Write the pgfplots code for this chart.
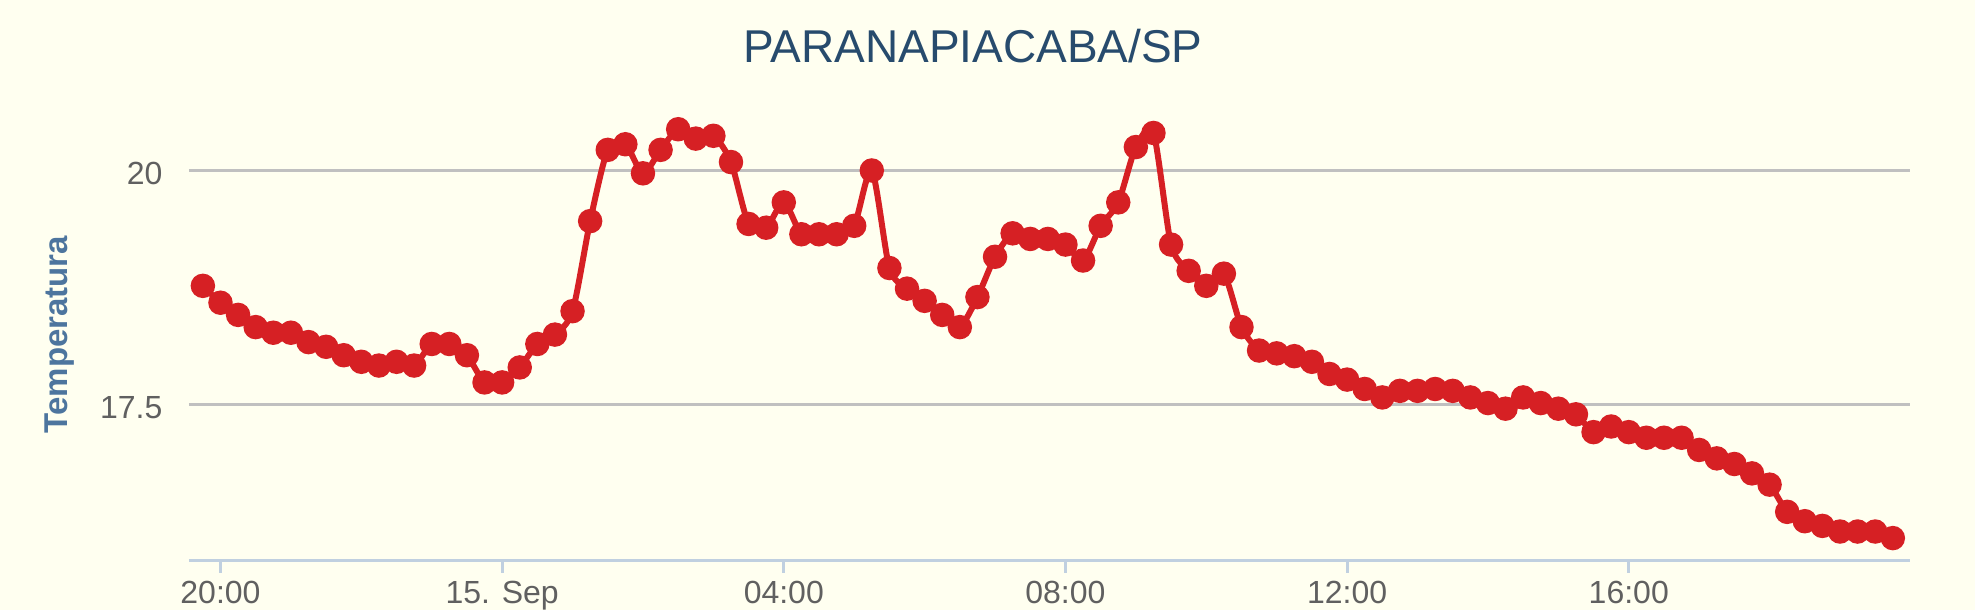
\documentclass[border=0pt]{standalone}
\usepackage{fontspec}
\setmainfont{Liberation Sans}
\usepackage{pgfplots}
\pgfplotsset{compat=1.18}
\definecolor{bg}{HTML}{FFFFF0}
\definecolor{titleblue}{HTML}{274B6D}
\definecolor{labelblue}{HTML}{4D759E}
\definecolor{ticklabelgray}{HTML}{606060}
\definecolor{gridgray}{HTML}{C0C0C0}
\definecolor{axisblue}{HTML}{C0D0E0}
\definecolor{sred}{HTML}{D62024}
\begin{document}
\begin{tikzpicture}
\path[fill=bg] (0,0) rectangle (987.5pt,305pt);
\useasboundingbox (0,0) rectangle (987.5pt,305pt);
\begin{axis}[
  at={(94.4pt,24.7pt)}, anchor=south west,
  scale only axis, width=860.8pt, height=226pt,
  xmin=-4.45, xmax=20.0, ymin=15.84, ymax=20.66,
  axis x line*=bottom, axis y line*=left,
  x axis line style={draw=axisblue, line width=1.5pt},
  y axis line style={draw=none},
  xtick={-4,0,4,8,12,16},
  xticklabels={20:00,15. Sep,04:00,08:00,12:00,16:00},
  ytick={17.5,20},
  yticklabels={17.5,20},
  xtick align=outside,
  major tick length=6pt,
  xtick style={draw=axisblue, line width=1.5pt},
  ytick style={draw=none},
  ymajorgrids,
  grid style={draw=gridgray, line width=1.5pt},
  tick label style={font=\fontsize{16}{16}\selectfont, text=ticklabelgray},
  xticklabel style={anchor=north, inner sep=0pt, yshift=-4pt},
  yticklabel style={anchor=east, inner sep=0pt, xshift=-13pt, yshift=-1.5pt},
  every axis title shift=0pt,
  title={PARANAPIACABA/SP},
  title style={at={(0.4555,1.1009)}, anchor=base, font=\fontsize{23}{23}\selectfont, text=titleblue, inner sep=0pt},
  ylabel={Temperatura},
  ylabel style={at={(axis description cs:-0.0703,0.5)}, anchor=base, font=\fontsize{16.5}{16.5}\selectfont\bfseries, text=labelblue, inner sep=0pt},
  clip=false,
]
\addplot[sred, line width=3pt, smooth, tension=0.45, mark=*, mark size=4.6pt, mark options={solid, fill=sred, draw=none}] coordinates {
(-4.25,18.77) (-4.00,18.59) (-3.75,18.46) (-3.50,18.33) (-3.25,18.27) (-3.00,18.27)
(-2.75,18.17) (-2.50,18.12) (-2.25,18.03) (-2.00,17.96) (-1.75,17.92) (-1.50,17.96)
(-1.25,17.92) (-1.00,18.15) (-0.75,18.15) (-0.50,18.03) (-0.25,17.74) (0.00,17.74)
(0.25,17.90) (0.50,18.15) (0.75,18.25) (1.00,18.50) (1.25,19.46) (1.50,20.22)
(1.75,20.28) (2.00,19.97) (2.25,20.22) (2.50,20.44) (2.75,20.34) (3.00,20.37)
(3.25,20.09) (3.50,19.43) (3.75,19.39) (4.00,19.66) (4.25,19.32) (4.50,19.32)
(4.75,19.32) (5.00,19.41) (5.25,20.00) (5.50,18.96) (5.75,18.74) (6.00,18.61)
(6.25,18.46) (6.50,18.33) (6.75,18.65) (7.00,19.08) (7.25,19.33) (7.50,19.27)
(7.75,19.27) (8.00,19.21) (8.25,19.04) (8.50,19.41) (8.75,19.66) (9.00,20.25)
(9.25,20.40) (9.50,19.21) (9.75,18.93) (10.00,18.77) (10.25,18.90) (10.50,18.33)
(10.75,18.08) (11.00,18.05) (11.25,18.02) (11.50,17.96) (11.75,17.83) (12.00,17.77)
(12.25,17.67) (12.50,17.58) (12.75,17.65) (13.00,17.65) (13.25,17.67) (13.50,17.65)
(13.75,17.58) (14.00,17.52) (14.25,17.46) (14.50,17.58) (14.75,17.52) (15.00,17.46)
(15.25,17.40) (15.50,17.21) (15.75,17.27) (16.00,17.21) (16.25,17.15) (16.50,17.15)
(16.75,17.15) (17.00,17.02) (17.25,16.93) (17.50,16.87) (17.75,16.77) (18.00,16.65)
(18.25,16.36) (18.50,16.26) (18.75,16.21) (19.00,16.15) (19.25,16.15) (19.50,16.15)
(19.75,16.08)
};
\end{axis}
\end{tikzpicture}
\end{document}
